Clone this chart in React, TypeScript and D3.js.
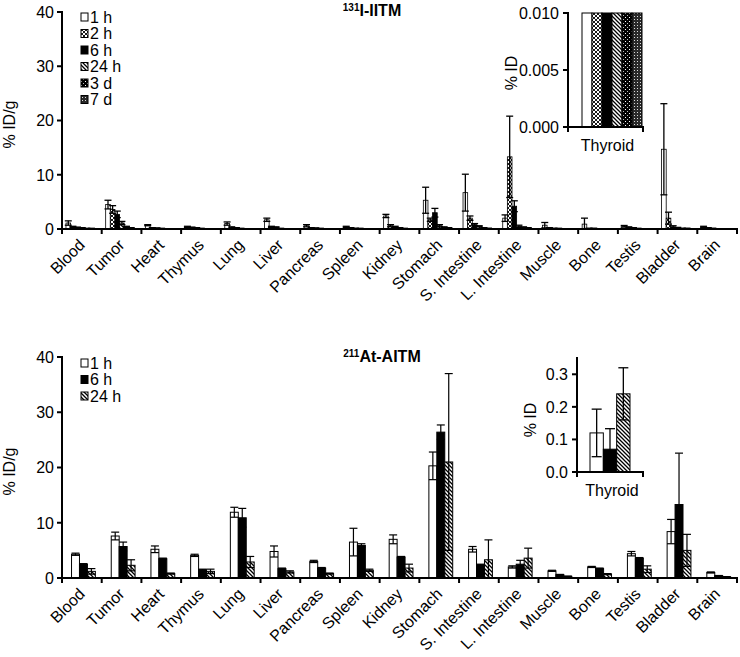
import React from 'react';
import * as d3 from 'd3';

const FONT = 'Arial, "Liberation Sans", Helvetica, sans-serif';

const organs = ['Blood', 'Tumor', 'Heart', 'Thymus', 'Lung', 'Liver', 'Pancreas', 'Spleen', 'Kidney', 'Stomach', 'S. Intestine', 'L. Intestine', 'Muscle', 'Bone', 'Testis', 'Bladder', 'Brain'];
const yTicks = [0, 10, 20, 30, 40];

// ---- 131I-IITM ----
const iSeries = ['1 h', '2 h', '6 h', '24 h', '3 d', '7 d'];
const i1h = [1.1, 4.5, 0.7, 0.4, 1.0, 1.7, 0.6, 0.4, 2.4, 5.3, 6.7, 2.0, 0.7, 0.9, 0.5, 14.7, 0.4];
const i1hErr = [0.4, 0.8, 0.1, 0.1, 0.3, 0.3, 0.2, 0.1, 0.3, 2.4, 3.4, 0.6, 0.5, 1.1, 0.15, 8.4, 0.1];
const i2h = [0.4, 3.6, 0.2, 0.3, 0.3, 0.4, 0.2, 0.2, 0.6, 1.7, 2.0, 13.3, 0.2, 0.1, 0.3, 2.0, 0.2];
const i2hErr = [0.1, 0.7, 0.05, 0.05, 0.1, 0.1, 0.05, 0.05, 0.2, 0.3, 0.4, 7.5, 0.05, 0.05, 0.1, 1.1, 0.05];
const i6h = [0.3, 2.7, 0.15, 0.2, 0.2, 0.3, 0.15, 0.1, 0.4, 3.0, 0.8, 4.2, 0.1, 0.1, 0.2, 0.4, 0.1];
const i6hErr = [0.05, 0.6, 0.05, 0.05, 0.05, 0.1, 0.05, 0.05, 0.1, 0.8, 0.2, 1.0, 0.05, 0.05, 0.05, 0.2, 0.05];
const i24h = [0.2, 1.1, 0.1, 0.1, 0.1, 0.1, 0.1, 0.1, 0.2, 0.6, 0.5, 0.5, 0.1, 0.05, 0.1, 0.2, 0.05];
const i24hErr = [0.05, 0.3, 0.03, 0.03, 0.03, 0.03, 0.03, 0.03, 0.05, 0.2, 0.1, 0.2, 0.03, 0.02, 0.03, 0.1, 0.02];
const i3d = [0.1, 0.4, 0.05, 0.05, 0.05, 0.05, 0.05, 0.05, 0.1, 0.3, 0.2, 0.3, 0.05, 0.05, 0.05, 0.1, 0.05];
const i3dErr = [0.03, 0.1, 0.02, 0.02, 0.02, 0.02, 0.02, 0.02, 0.03, 0.1, 0.05, 0.1, 0.02, 0.02, 0.02, 0.05, 0.02];
const i7d = [0.1, 0.2, 0.05, 0.05, 0.05, 0.05, 0.05, 0.05, 0.05, 0.2, 0.1, 0.2, 0.05, 0.02, 0.05, 0.1, 0.02];
const i7dErr = [0.02, 0.05, 0.02, 0.02, 0.02, 0.02, 0.02, 0.02, 0.02, 0.05, 0.05, 0.05, 0.02, 0.01, 0.02, 0.05, 0.01];
const iValues = [i1h, i2h, i6h, i24h, i3d, i7d];
const iErrors = [i1hErr, i2hErr, i6hErr, i24hErr, i3dErr, i7dErr];
const iThyroid = [0.03, 0.028, 0.025, 0.02, 0.015, 0.012];
const iThyroidTicks = [0, 0.005, 0.01];

// ---- 211At-AITM ----
const aSeries = ['1 h', '6 h', '24 h'];
const a1h = [4.3, 7.6, 5.2, 4.1, 11.9, 4.8, 3.0, 6.5, 7.0, 20.3, 5.2, 2.0, 1.3, 2.0, 4.4, 8.4, 1.0];
const a1hErr = [0.2, 0.7, 0.6, 0.2, 0.9, 1.0, 0.2, 2.5, 0.8, 2.5, 0.5, 0.2, 0.1, 0.1, 0.4, 2.2, 0.1];
const a6h = [2.5, 5.7, 3.5, 1.5, 10.9, 1.7, 1.8, 5.9, 3.8, 26.4, 2.4, 2.5, 0.6, 1.7, 3.6, 13.3, 0.4];
const a6hErr = [0.1, 0.8, 0.1, 0.1, 1.7, 0.1, 0.1, 0.3, 0.1, 1.3, 0.1, 0.7, 0.05, 0.1, 0.1, 9.3, 0.05];
const a24h = [1.2, 2.3, 0.8, 1.2, 2.9, 1.1, 0.8, 1.4, 1.8, 21.0, 3.3, 3.6, 0.3, 0.7, 1.6, 5.0, 0.2];
const a24hErr = [0.5, 1.0, 0.1, 0.4, 1.0, 0.2, 0.1, 0.2, 0.7, 16.0, 3.6, 1.8, 0.05, 0.1, 0.6, 2.9, 0.05];
const aValues = [a1h, a6h, a24h];
const aErrors = [a1hErr, a6hErr, a24hErr];
const aThyroid = [0.12, 0.07, 0.24];
const aThyroidErr = [0.073, 0.063, 0.08];
const aThyroidTicks = [0, 0.1, 0.2, 0.3];

const fills: Record<string, string> = {
  '1 h': '#ffffff',
  '2 h': 'url(#p2h)',
  '6 h': '#000000',
  '24 h': 'url(#p24h)',
  '3 d': 'url(#p3d)',
  '7 d': 'url(#p7d)',
};

const X0 = 62;
const X1 = 737;

function ErrorBar({ cx, y, v, e, half, sw }: any) {
  const lo = y(Math.max(0, v - e));
  const hi = y(v + e);
  return (
    <g stroke="#000" strokeWidth={sw}>
      <line x1={cx} x2={cx} y1={lo} y2={hi} />
      <line x1={cx - half} x2={cx + half} y1={hi} y2={hi} />
      {v - e > 0 && <line x1={cx - half} x2={cx + half} y1={lo} y2={lo} />}
    </g>
  );
}

function MainPanel({ yTop, yBase, series, values, errors, inner, capHalf, barStroke, errStroke, legendY, legendStep, title, sup, titleX, titleY }: any) {
  const x = d3.scaleBand<string>().domain(organs).range([X0, X1]).padding(0);
  const y = d3.scaleLinear().domain([0, 40]).range([yBase, yTop]);
  const bw = x.bandwidth();
  const xi = d3.scaleBand<string>().domain(series).range([bw * inner[0], bw * inner[1]]).padding(0);
  const w = xi.bandwidth();
  return (
    <g fontFamily={FONT}>
      {series.map((s: string, si: number) =>
        organs.map((o, oi) => {
          const v = values[si][oi];
          return (
            <rect key={s + o} x={(x(o) as number) + (xi(s) as number)} y={y(v)} width={w} height={yBase - y(v)}
              fill={fills[s]} stroke="#000" strokeWidth={barStroke} />
          );
        })
      )}
      {series.map((s: string, si: number) =>
        organs.map((o, oi) => (
          <ErrorBar key={'e' + s + o} cx={(x(o) as number) + (xi(s) as number) + w / 2} y={y}
            v={values[si][oi]} e={errors[si][oi]} half={capHalf} sw={errStroke} />
        ))
      )}
      <line x1={X0} x2={X0} y1={yTop - 1} y2={yBase + 1} stroke="#000" strokeWidth={2} />
      <line x1={X0 - 1} x2={X1 + 1} y1={yBase} y2={yBase} stroke="#000" strokeWidth={2} />
      {yTicks.map((t) => (
        <g key={t}>
          <line x1={X0 - 5} x2={X0} y1={y(t)} y2={y(t)} stroke="#000" strokeWidth={2} />
          <text x={X0 - 8} y={y(t)} dy="0.36em" textAnchor="end" fontSize={16}>{t}</text>
        </g>
      ))}
      {[...organs.map((o) => x(o) as number), X1].map((tx, i) => (
        <line key={i} x1={tx} x2={tx} y1={yBase} y2={yBase + 5} stroke="#000" strokeWidth={2} />
      ))}
      {organs.map((o) => {
        const cx = (x(o) as number) + bw / 2 + 4;
        const cy = yBase + 17;
        return (
          <text key={o} x={0} y={0} textAnchor="end" fontSize={16}
            transform={`translate(${cx},${cy}) rotate(-45)`}>{o}</text>
        );
      })}
      <text transform={`translate(15,${(yTop + yBase) / 2 + 4}) rotate(-90)`} textAnchor="middle" fontSize={16}>% ID/g</text>
      <text x={titleX} y={titleY} textAnchor="middle" fontSize={16} fontWeight="bold">
        <tspan fontSize={10} dy={-5}>{sup}</tspan>
        <tspan dy={5}>{title}</tspan>
      </text>
      {series.map((s: string, i: number) => (
        <g key={'l' + s}>
          <rect x={81} y={legendY + i * legendStep - 4} width={7} height={8} fill={fills[s]} stroke="#000" strokeWidth={1} />
          <text x={90} y={legendY + i * legendStep} dy="0.36em" fontSize={16}>{s}</text>
        </g>
      ))}
    </g>
  );
}

function Inset({ ax, ax1, yTop, yBase, max, ticks, series, values, errors, barX0, barX1, tickFmt, labelX, labelY, thyroidY }: any) {
  const y = d3.scaleLinear().domain([0, max]).range([yBase, yTop]).clamp(true);
  const xi = d3.scaleBand<string>().domain(series).range([barX0, barX1]).padding(0);
  const w = xi.bandwidth();
  return (
    <g fontFamily={FONT}>
      {series.map((s: string, i: number) => (
        <rect key={s} x={xi(s)} y={y(values[i])} width={w} height={yBase - y(values[i])} fill={fills[s]} stroke="#000" strokeWidth={1} />
      ))}
      {errors && series.map((s: string, i: number) => (
        <ErrorBar key={'e' + s} cx={(xi(s) as number) + w / 2} y={y} v={values[i]} e={errors[i]} half={5} sw={1.3} />
      ))}
      <line x1={ax} x2={ax} y1={yTop - 1} y2={yBase + 1} stroke="#000" strokeWidth={2} />
      <line x1={ax - 1} x2={ax1 + 1} y1={yBase} y2={yBase} stroke="#000" strokeWidth={2} />
      <line x1={ax1} x2={ax1} y1={yBase} y2={yBase + 5} stroke="#000" strokeWidth={2} />
      <line x1={ax} x2={ax} y1={yBase} y2={yBase + 5} stroke="#000" strokeWidth={2} />
      {ticks.map((t: number) => (
        <g key={t}>
          <line x1={ax - 5} x2={ax} y1={y(t)} y2={y(t)} stroke="#000" strokeWidth={2} />
          <text x={ax - 9} y={y(t)} dy="0.36em" textAnchor="end" fontSize={16}>{tickFmt(t)}</text>
        </g>
      ))}
      <text x={(ax + ax1) / 2 + 2} y={thyroidY} textAnchor="middle" fontSize={16}>Thyroid</text>
      <text transform={`translate(${labelX},${labelY}) rotate(-90)`} textAnchor="middle" fontSize={16}>% ID</text>
    </g>
  );
}

export default function App() {
  return (
    <svg width={740} height={657} viewBox="0 0 740 657" style={{ position: 'absolute', left: 0, top: 0, display: 'block', background: '#fff' }}>
      <defs>
        <pattern id="p2h" patternUnits="userSpaceOnUse" width={4} height={4}>
          <rect width={4} height={4} fill="#fff" />
          <path d="M0,0 L4,4 M4,0 L0,4" stroke="#000" strokeWidth={0.9} />
        </pattern>
        <pattern id="p24h" patternUnits="userSpaceOnUse" width={4} height={4}>
          <rect width={4} height={4} fill="#fff" />
          <path d="M-1,-1 L5,5 M-1,3 L1,5 M3,-1 L5,1" stroke="#000" strokeWidth={1.3} />
        </pattern>
        <pattern id="p3d" patternUnits="userSpaceOnUse" width={4} height={4}>
          <rect width={4} height={4} fill="#000" />
          <rect x={1} y={1} width={1} height={1} fill="#fff" />
          <rect x={3} y={3} width={1} height={1} fill="#bbb" />
        </pattern>
        <pattern id="p7d" patternUnits="userSpaceOnUse" width={3} height={3}>
          <rect width={3} height={3} fill="#2a2a2a" />
          <rect x={1} y={1} width={1} height={1} fill="#ddd" />
        </pattern>
      </defs>
      <rect width={740} height={657} fill="#fff" />
      <MainPanel yTop={12} yBase={229} series={iSeries} values={iValues} errors={iErrors} inner={[0.1, 0.8]}
        capHalf={3.5} barStroke={0.8} errStroke={1.3} legendY={17} legendStep={16.5}
        title="I-IITM" sup="131" titleX={372} titleY={16} />
      <Inset ax={568} ax1={643} yTop={13} yBase={127} max={0.01} ticks={iThyroidTicks} series={iSeries}
        values={iThyroid} errors={null} barX0={582} barX1={642} tickFmt={(t: number) => t.toFixed(3)}
        labelX={517} labelY={73} thyroidY={151} />
      <MainPanel yTop={357} yBase={578} series={aSeries} values={aValues} errors={aErrors} inner={[0.24, 0.84]}
        capHalf={4} barStroke={1} errStroke={1.2} legendY={363} legendStep={16.5}
        title="At-AITM" sup="211" titleX={382} titleY={362} />
      <Inset ax={577} ax1={643} yTop={358} yBase={472} max={0.35} ticks={aThyroidTicks} series={aSeries}
        values={aThyroid} errors={aThyroidErr} barX0={590} barX1={630} tickFmt={(t: number) => t.toFixed(1)}
        labelX={536} labelY={420} thyroidY={496} />
    </svg>
  );
}
